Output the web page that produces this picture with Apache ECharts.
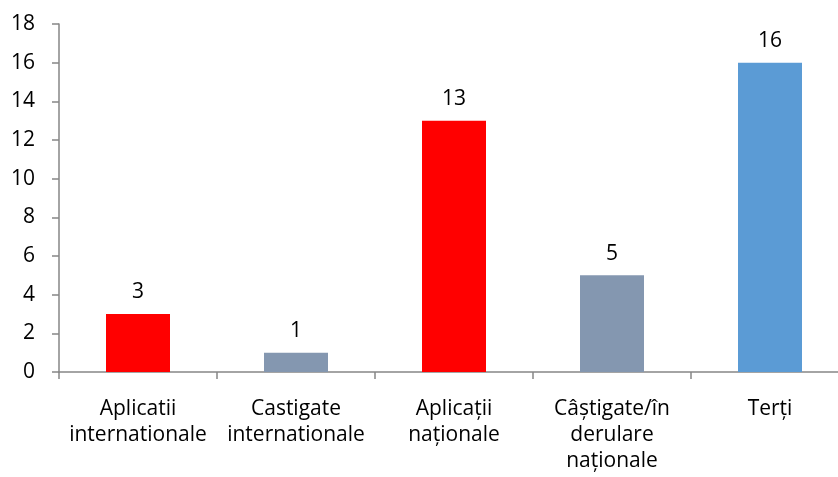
<!DOCTYPE html>
<html><head><meta charset="utf-8">
<script src="https://cdn.jsdelivr.net/npm/echarts@6/dist/echarts.min.js"></script>
<style>html,body{margin:0;padding:0;background:#fff;overflow:hidden;width:838px;height:477px}#c{width:860px;height:477px}</style>
</head><body><div id="c"></div>
<script>
const categories = ["Aplicatii\ninternationale", "Castigate\ninternationale", "Aplicații\nnaționale", "Câștigate/în\nderulare\nnaționale", "Terți"];
const values = [3, 1, 13, 5, 16];
const barColors = ["#FF0000", "#8497B0", "#FF0000", "#8497B0", "#5B9BD5"];
const yTicks = [0, 2, 4, 6, 8, 10, 12, 14, 16, 18];

const font = "'Open Sans', sans-serif";
const chart = echarts.init(document.getElementById('c'), null, {renderer: 'canvas'});
chart.setOption({
  animation: false,
  grid: {left: 59, top: 24, width: 790, height: 348, containLabel: false},
  xAxis: {
    type: 'category',
    data: categories,
    axisLine: {lineStyle: {color: '#868686', width: 1.5}},
    axisTick: {show: true, length: 7, lineStyle: {color: '#868686', width: 1.5}},
    axisLabel: {color: '#000', fontSize: 21, fontFamily: font, lineHeight: 26, margin: 24, interval: 0}
  },
  yAxis: {
    type: 'value',
    min: yTicks[0], max: yTicks[yTicks.length - 1], interval: 2,
    axisLine: {show: true, lineStyle: {color: '#868686', width: 1.5}},
    axisTick: {show: true, length: 7, lineStyle: {color: '#868686', width: 1.5}},
    splitLine: {show: false},
    axisLabel: {color: '#000', fontSize: 21, fontFamily: font, margin: 24}
  },
  series: [{
    type: 'bar',
    data: values.map((v, i) => ({value: v, itemStyle: {color: barColors[i]}})),
    barWidth: 64,
    label: {show: true, position: 'top', distance: 11, color: '#000', fontSize: 21, fontFamily: font}
  }]
});
</script></body></html>
